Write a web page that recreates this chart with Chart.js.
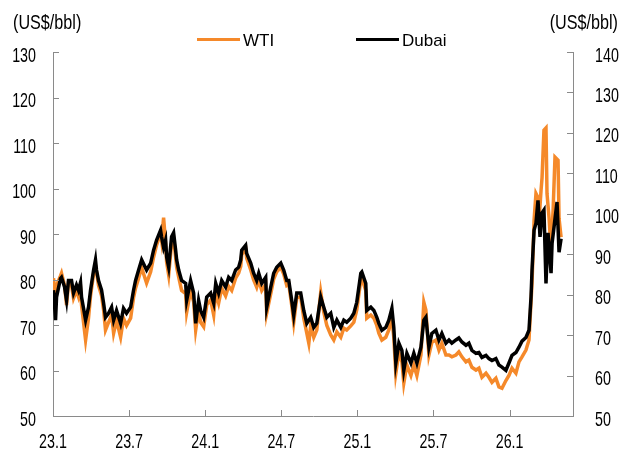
<!DOCTYPE html>
<html>
<head>
<meta charset="utf-8">
<title>WTI vs Dubai</title>
<script src="https://cdn.jsdelivr.net/npm/chart.js@4.4.1/dist/chart.umd.min.js"></script>
<style>
  html, body { margin: 0; padding: 0; background: #fff; }
  #wrap { width: 630px; height: 460px; }
</style>
</head>
<body>
<div id="wrap"><canvas id="oilChart" width="630" height="460"></canvas></div>
<script>
// months counted from Jan 2023 (0 = 23.1)
const xLabels = ['23.1', '23.7', '24.1', '24.7', '25.1', '25.7', '26.1'];

const wtiMonths = [
  0.04,0.20,0.28,0.59,0.67,0.91,1.07,1.22,1.46,1.62,
  1.85,2.01,2.17,2.25,2.57,2.80,2.96,3.20,3.35,3.43,
  3.59,3.83,3.99,4.14,4.38,4.62,4.78,5.01,5.33,5.56,
  5.80,6.12,6.35,6.51,6.75,6.99,7.30,7.38,7.70,7.93,
  8.17,8.48,8.56,8.72,8.88,8.96,9.12,9.35,9.51,9.67,
  9.75,9.91,10.14,10.46,10.54,10.85,11.09,11.25,11.48,11.64,
  11.88,12.12,12.43,12.67,12.83,13.06,13.30,13.61,13.85,14.09,
  14.40,14.64,14.80,14.88,15.19,15.27,15.59,15.82,16.06,16.22,
  16.46,16.77,16.85,17.17,17.40,17.64,17.96,18.19,18.43,18.59,
  18.82,18.98,19.22,19.53,19.77,20.01,20.17,20.32,20.56,20.80,
  21.11,21.35,21.59,21.90,22.14,22.38,22.69,22.93,23.16,23.48,
  23.72,23.95,24.27,24.35,24.66,24.74,25.06,25.30,25.53,25.69,
  25.93,26.24,26.48,26.72,26.87,27.03,27.27,27.51,27.66,27.90,
  28.22,28.45,28.69,29.01,29.24,29.40,29.64,29.87,30.19,30.43,
  30.66,30.98,31.22,31.45,31.77,32.00,32.24,32.56,32.79,33.03,
  33.35,33.58,33.82,34.14,34.37,34.61,34.92,35.16,35.40,35.71,
  35.95,36.19,36.50,36.74,36.98,37.29,37.53,37.77,37.93,38.08,
  38.24,38.40,38.48,38.56,38.71,38.87,38.95,39.11,39.27,39.43,
  39.58,39.82,39.90,40.06
];
const wtiPrice = [
  80.3,75.5,78.7,80.8,81.4,78.7,74.4,79.2,78.7,75.9,
  77.6,76.2,78.1,74.4,66.7,71.5,76.4,81.2,83.1,81.7,
  78.7,76.4,73.3,68.9,70.6,72.2,68.2,71.0,67.3,71.5,
  69.9,71.5,76.0,78.1,80.3,82.6,79.9,79.2,81.7,84.9,
  87.6,90.2,88.6,93.6,87.9,83.8,81.0,87.9,89.1,84.9,
  82.7,80.5,77.6,76.9,72.8,77.6,75.1,68.9,73.3,70.6,
  69.6,74.4,75.5,72.2,77.2,74.8,78.1,76.4,78.5,77.6,
  80.3,81.4,82.9,85.4,86.9,84.7,82.1,79.9,78.3,79.9,
  77.6,79.0,72.6,76.9,80.1,81.7,82.7,81.2,78.7,79.0,
  74.4,70.6,76.0,76.2,71.5,68.2,66.0,69.9,67.3,68.9,
  77.2,72.8,69.9,67.8,66.7,68.5,67.3,69.3,68.9,69.8,
  70.6,73.3,79.9,80.3,77.6,71.5,72.2,71.5,69.9,68.2,
  66.7,67.3,68.9,71.7,67.3,59.4,63.9,61.9,57.2,61.2,
  58.9,61.2,58.9,63.4,75.0,73.3,63.4,66.2,66.7,64.5,
  66.0,63.4,63.4,63.0,63.4,64.1,63.0,61.9,62.3,60.7,
  60.1,60.5,58.5,59.4,58.5,57.4,58.3,56.4,56.1,57.8,
  58.9,60.5,59.4,61.9,63.0,64.5,66.7,79.2,93.0,98.9,
  98.0,96.3,99.6,102.4,112.8,113.3,98.9,93.6,86.5,95.2,
  106.9,106.2,93.4,89.3
];

const dubaiMonths = [
  0.04,0.20,0.28,0.59,0.67,0.91,1.07,1.22,1.46,1.62,
  1.85,2.01,2.17,2.25,2.57,2.80,2.96,3.20,3.35,3.43,
  3.59,3.83,3.99,4.14,4.38,4.62,4.78,5.01,5.33,5.56,
  5.80,6.12,6.35,6.51,6.75,6.99,7.30,7.38,7.70,7.93,
  8.17,8.48,8.56,8.72,8.88,8.96,9.12,9.35,9.51,9.67,
  9.75,9.91,10.14,10.46,10.54,10.85,11.09,11.25,11.48,11.64,
  11.88,12.12,12.43,12.67,12.83,13.06,13.30,13.61,13.85,14.09,
  14.40,14.64,14.80,14.88,15.19,15.27,15.59,15.82,16.06,16.22,
  16.46,16.77,16.85,17.17,17.40,17.64,17.96,18.19,18.43,18.59,
  18.82,18.98,19.22,19.53,19.77,20.01,20.32,20.56,20.80,21.11,
  21.35,21.59,21.90,22.14,22.38,22.69,22.93,23.16,23.48,23.72,
  23.95,24.27,24.35,24.66,24.74,25.06,25.30,25.53,25.69,25.93,
  26.24,26.48,26.72,26.87,27.03,27.27,27.51,27.66,27.90,28.22,
  28.45,28.69,29.01,29.24,29.40,29.64,29.87,30.19,30.43,30.66,
  30.98,31.22,31.45,31.77,32.00,32.24,32.56,32.79,33.03,33.35,
  33.58,33.82,34.14,34.37,34.61,34.92,35.16,35.40,35.71,35.95,
  36.19,36.50,36.74,36.98,37.29,37.53,37.69,37.77,37.93,38.08,
  38.24,38.40,38.56,38.71,38.87,39.03,39.27,39.35,39.58,39.74,
  39.90,40.06
];
const dubaiPrice = [
  81.1,73.7,79.4,84.0,84.3,81.9,78.6,83.5,83.5,80.4,
  82.4,81.1,83.0,79.4,73.7,76.9,81.1,86.1,88.6,86.1,
  83.5,81.1,77.9,74.4,75.4,76.9,73.7,76.1,72.9,76.6,
  75.4,76.9,81.1,83.5,86.1,88.6,86.6,86.1,87.8,91.0,
  93.5,95.9,94.3,91.7,93.5,89.3,86.8,94.3,95.3,91.0,
  88.6,86.1,83.5,82.8,78.6,83.5,80.4,72.9,78.6,76.1,
  74.4,79.4,80.4,77.9,82.8,80.4,83.5,81.9,84.3,83.5,
  86.1,86.8,88.6,91.0,92.2,90.2,87.8,85.3,83.5,85.3,
  82.8,84.3,76.9,81.9,85.3,86.8,87.8,86.1,83.5,83.5,
  78.6,74.9,80.4,80.4,76.1,72.9,74.4,71.9,72.9,79.4,
  76.9,74.4,75.4,71.9,73.7,71.9,73.7,73.2,74.2,75.4,
  78.1,85.3,85.6,82.8,76.1,76.9,76.1,74.4,72.9,71.2,
  71.9,73.7,76.6,71.9,63.1,68.0,66.2,61.3,65.5,63.1,
  65.5,63.1,67.0,73.7,74.4,67.0,70.4,71.2,68.8,70.4,
  68.0,68.8,68.0,68.8,69.3,68.3,67.5,68.0,66.2,65.5,
  65.7,64.5,65.0,64.2,63.7,64.2,62.6,62.1,61.3,63.1,
  65.0,65.7,67.0,68.5,69.4,71.2,79.4,86.1,95.9,97.7,
  103.3,94.3,100.2,100.9,82.8,95.3,85.3,92.7,98.7,102.9,
  90.5,93.8
];

const FONT = '"Liberation Sans", Arial, sans-serif';
const AXIS_COLOR = '#8a8a8a';
const WTI_COLOR = '#f5892a';
const DUBAI_COLOR = '#000000';

const toPoints = (xs, ys) => xs.map((m, i) => ({ x: m, y: ys[i] }));

// the source uses tall, narrow lettering on the axes
function narrowText(ctx, text, x, y, align, size, squeeze) {
  ctx.save();
  ctx.font = size + 'px ' + FONT;
  ctx.textAlign = align;
  ctx.textBaseline = 'alphabetic';
  ctx.translate(x, y);
  ctx.scale(squeeze, 1);
  ctx.fillText(text, 0, 0);
  ctx.restore();
}

// inward tick marks, axis labels, unit labels and the legend
const decorations = {
  id: 'decorations',
  afterDraw(chart) {
    const { ctx, chartArea: a, scales } = chart;
    ctx.save();
    ctx.strokeStyle = AXIS_COLOR;
    ctx.lineWidth = 1;
    ctx.beginPath();
    scales.y.ticks.forEach(t => {
      const y = Math.round(scales.y.getPixelForValue(t.value)) + 0.5;
      ctx.moveTo(a.left, y); ctx.lineTo(a.left + 6, y);
    });
    scales.y2.ticks.forEach(t => {
      const y = Math.round(scales.y2.getPixelForValue(t.value)) + 0.5;
      ctx.moveTo(a.right, y); ctx.lineTo(a.right - 6, y);
    });
    scales.x.ticks.forEach(t => {
      const x = Math.round(scales.x.getPixelForValue(t.value)) + 0.5;
      ctx.moveTo(x, a.bottom); ctx.lineTo(x, a.bottom - 6);
    });
    ctx.stroke();

    ctx.fillStyle = '#000';
    scales.y.ticks.forEach(t => {
      narrowText(ctx, String(t.value), 36, scales.y.getPixelForValue(t.value) + 9.5, 'right', 21, 0.68);
    });
    scales.y2.ticks.forEach(t => {
      narrowText(ctx, String(t.value), 595, scales.y2.getPixelForValue(t.value) + 9.5, 'left', 21, 0.68);
    });
    scales.x.ticks.forEach(t => {
      narrowText(ctx, xLabels[t.value / 6], scales.x.getPixelForValue(t.value), 448, 'center', 21, 0.68);
    });

    narrowText(ctx, '(US$/bbl)', 13, 28.5, 'left', 21, 0.77);
    narrowText(ctx, '(US$/bbl)', 618, 28.5, 'right', 21, 0.77);

    const items = [
      { text: 'WTI', color: WTI_COLOR, x: 197 },
      { text: 'Dubai', color: DUBAI_COLOR, x: 356 }
    ];
    ctx.font = '17px ' + FONT;
    ctx.textAlign = 'left';
    ctx.textBaseline = 'alphabetic';
    items.forEach(it => {
      ctx.strokeStyle = it.color;
      ctx.lineWidth = 3;
      ctx.beginPath();
      ctx.moveTo(it.x, 39.5); ctx.lineTo(it.x + 43, 39.5);
      ctx.stroke();
      ctx.fillStyle = '#000';
      ctx.fillText(it.text, it.x + 46, 45.5);
    });
    ctx.restore();
  }
};

const hiddenGrid = { display: false, drawTicks: false };
const axisBorder = { display: true, color: AXIS_COLOR, width: 1 };

new Chart(document.getElementById('oilChart'), {
  type: 'line',
  data: {
    datasets: [
      {
        label: 'WTI',
        data: toPoints(wtiMonths, wtiPrice),
        yAxisID: 'y',
        borderColor: WTI_COLOR,
        borderWidth: 3.5,
        pointRadius: 0,
        tension: 0,
        order: 1
      },
      {
        label: 'Dubai',
        data: toPoints(dubaiMonths, dubaiPrice),
        yAxisID: 'y2',
        borderColor: DUBAI_COLOR,
        borderWidth: 3.5,
        pointRadius: 0,
        tension: 0,
        order: 0
      }
    ]
  },
  options: {
    responsive: false,
    animation: false,
    devicePixelRatio: 1,
    layout: { padding: { top: 52, left: 0, right: 0, bottom: 0 } },
    plugins: { legend: { display: false }, tooltip: { enabled: false } },
    scales: {
      x: {
        type: 'linear',
        min: 0,
        max: 41,
        afterFit: s => { s.height = 44; },
        grid: hiddenGrid,
        border: axisBorder,
        ticks: { display: false, stepSize: 6, includeBounds: false }
      },
      y: {
        position: 'left',
        min: 50,
        max: 130,
        afterFit: s => { s.width = 53; },
        grid: hiddenGrid,
        border: axisBorder,
        ticks: { display: false, stepSize: 10 }
      },
      y2: {
        position: 'right',
        min: 50,
        max: 140,
        afterFit: s => { s.width = 57; },
        grid: hiddenGrid,
        border: axisBorder,
        ticks: { display: false, stepSize: 10 }
      }
    }
  },
  plugins: [decorations]
});
</script>
</body>
</html>
